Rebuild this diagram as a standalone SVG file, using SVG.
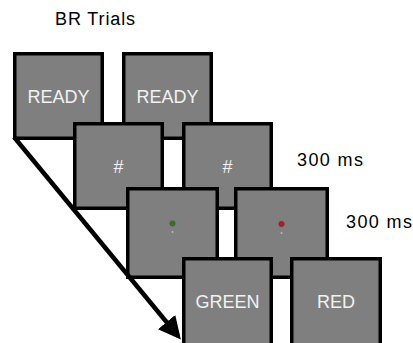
<svg xmlns="http://www.w3.org/2000/svg" width="413" height="343" viewBox="0 0 413 343">
<defs>
<style>
.box{fill:#7f7f7f;stroke:#000;stroke-width:3.5}
.lbl{font-family:"Liberation Sans",Arial,sans-serif;font-size:18px;fill:#f2f2f2;text-anchor:middle}
.txt{font-family:"Liberation Sans",Arial,sans-serif;font-size:18px;fill:#000}
</style>
<marker id="ah" markerWidth="5" markerHeight="5" refX="4" refY="2.5" orient="auto" markerUnits="strokeWidth">
<path d="M0,0 L5,2.5 L0,5 Z" fill="#000"/>
</marker>
</defs>
<text class="txt" x="55" y="25" font-size="19" textLength="80">BR Trials</text>
<g id="ready1"><rect class="box" x="14.75" y="53.75" width="87.5" height="84.5"/><text class="lbl" x="58.5" y="103">READY</text></g>
<g id="ready2"><rect class="box" x="123.75" y="53.75" width="87.5" height="84.5"/><text class="lbl" x="167.5" y="103">READY</text></g>
<g id="hash1"><rect class="box" x="74.75" y="123.75" width="87.5" height="84.5"/><text class="lbl" x="118.5" y="173">#</text></g>
<g id="hash2"><rect class="box" x="183.75" y="123.75" width="87.5" height="84.5"/><text class="lbl" x="227.5" y="173">#</text></g>
<g id="dot1"><rect class="box" x="127.75" y="188.75" width="89.5" height="88.5"/><circle cx="172.5" cy="223.5" r="3" fill="#3d6b2b"/><circle cx="172.5" cy="232" r="1" fill="#bbb"/></g>
<g id="dot2"><rect class="box" x="235.75" y="188.75" width="91.5" height="88.5"/><circle cx="281.5" cy="224" r="3" fill="#a3202a"/><circle cx="281.5" cy="233" r="1" fill="#bbb"/></g>
<g id="green"><rect class="box" x="183.75" y="258.75" width="87.5" height="86"/><text class="lbl" x="227.5" y="308">GREEN</text></g>
<g id="red"><rect class="box" x="291.75" y="258.75" width="88.5" height="86"/><text class="lbl" x="336" y="308">RED</text></g>
<text class="txt" x="297" y="166" textLength="66">300 ms</text>
<text class="txt" x="346" y="228" textLength="66">300 ms</text>
<g id="connectors">
<line x1="14" y1="137" x2="178" y2="336" stroke="#000" stroke-width="4.5" marker-end="url(#ah)"/>
</g>
</svg>
